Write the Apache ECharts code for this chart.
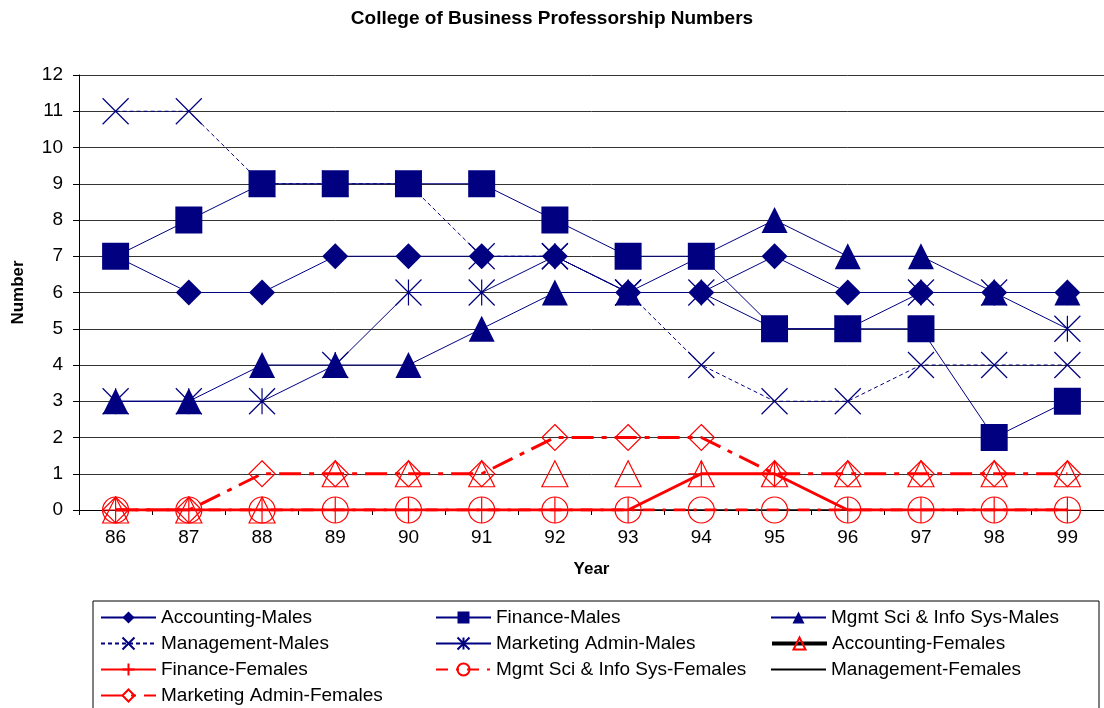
<!DOCTYPE html>
<html>
<head>
<meta charset="utf-8">
<title>College of Business Professorship Numbers</title>
<script src="https://cdn.jsdelivr.net/npm/echarts@6/dist/echarts.min.js"></script>
<style>
  html, body { margin: 0; padding: 0; background: #fff; }
  #chart { width: 1104px; height: 708px; }
</style>
</head>
<body>
<div id="chart"></div>
<script>
// values
var years = ["86", "87", "88", "89", "90", "91", "92", "93", "94", "95", "96", "97", "98", "99"];
var yTicks = [0, 12, 1]; // min, max, step

var accountingMales = [7, 6, 6, 7, 7, 7, 7, 6, 6, 7, 6, 6, 6, 6];
var financeMales = [7, 8, 9, 9, 9, 9, 8, 7, 7, 5, 5, 5, 2, 3];
var mgmtSciMales = [3, 3, 4, 4, 4, 5, 6, 6, 7, 8, 7, 7, 6, 6];
var managementMales = [11, 11, 9, 9, 9, 7, 7, 6, 4, 3, 3, 4, 4, 4];
var marketingMales = [3, 3, 3, 4, 6, 6, 7, 6, 6, 5, 5, 6, 6, 5];

var accountingFemales = [0, 0, 0, 1, 1, 1, 1, 1, 1, 1, 1, 1, 1, 1];
var financeFemales = [0, 0, 0, 0, 0, 0, 0, 0, 1, 1, 0, 0, 0, 0];
var mgmtSciFemales = [0, 0, 0, 0, 0, 0, 0, 0, 0, 0, 0, 0, 0, 0];
var managementFemales = [0, 0, 0, 0, 0, 0, 0, 0, 0, 0, 0, 0, 0, 0];
var marketingFemales = [0, 0, 1, 1, 1, 1, 2, 2, 2, 1, 1, 1, 1, 1];

var NAVY = "#000080";
var RED = "#ff0000";
var FONT = "'Liberation Sans', Arial, sans-serif";
var NONE = "rgba(0,0,0,0)";

var crossPath = "path://M0,0L10,10M10,0L0,10";
var starPath = "path://M0,0L10,10M10,0L0,10M5,0L5,10";
var plusPath = "path://M5,0L5,10M0,5L10,5";

function line(name, data, opts) {
  return {
    name: name,
    type: "line",
    data: data,
    symbol: opts.symbol,
    symbolSize: opts.size || 26,
    showAllSymbol: true,
    z: opts.z || 2,
    itemStyle: {
      color: opts.fill,
      borderColor: opts.stroke,
      borderWidth: opts.fill === NONE ? 1.2 : 0
    },
    lineStyle: {
      color: opts.lineColor,
      width: opts.width,
      type: opts.dash || "solid",
      opacity: opts.lineOpacity === undefined ? 1 : opts.lineOpacity
    },
    emphasis: { disabled: true }
  };
}

var chart = echarts.init(document.getElementById("chart"));
chart.setOption({
  animation: false,
  backgroundColor: "#fff",
  textStyle: { fontFamily: FONT },
  title: {
    text: "College of Business Professorship Numbers",
    left: "center",
    top: 4,
    textStyle: { fontSize: 19, fontWeight: "bold", color: "#000", fontFamily: FONT }
  },
  grid: { left: 79, right: -7, top: 75, bottom: 198 },
  legend: {
    left: 93,
    top: 601,
    width: 1010,
    orient: "horizontal",
    itemWidth: 55,
    itemHeight: 15,
    itemGap: 7,
    itemTextGap: 7,
    padding: [7, 0, 20, 7],
    borderColor: "#000",
    borderWidth: 1,
    textStyle: { fontSize: 19, color: "#000", width: 267, lineHeight: 16, fontFamily: FONT },
    data: [
      "Accounting-Males", "Finance-Males", "Mgmt Sci & Info Sys-Males",
      "Management-Males", "Marketing Admin-Males",
      { name: "Accounting-Females", lineStyle: { color: "#000", width: 4, opacity: 1 } },
      "Finance-Females", "Mgmt Sci & Info Sys-Females",
      { name: "Management-Females", itemStyle: { opacity: 0 } },
      "Marketing Admin-Females"
    ]
  },
  xAxis: {
    type: "category",
    data: years,
    name: "Year",
    nameLocation: "middle",
    nameGap: 51,
    nameTextStyle: { fontSize: 17, fontWeight: "bold", color: "#000" },
    axisLine: { lineStyle: { color: "#000", width: 1 } },
    axisTick: { show: true, length: 5, lineStyle: { color: "#000" } },
    axisLabel: { fontSize: 19, color: "#000", margin: 18 }
  },
  yAxis: {
    type: "value",
    min: yTicks[0],
    max: yTicks[1],
    interval: yTicks[2],
    name: "Number",
    nameLocation: "middle",
    nameGap: 52,
    nameTextStyle: { fontSize: 17, fontWeight: "bold", color: "#000" },
    axisLine: { show: true, lineStyle: { color: "#000", width: 1 } },
    axisTick: { show: true, length: 6, lineStyle: { color: "#000" } },
    axisLabel: { fontSize: 19, color: "#000", margin: 16 },
    splitLine: { lineStyle: { color: "#333", width: 1 } }
  },
  series: [
    line("Accounting-Males", accountingMales, { symbol: "diamond", fill: NAVY, stroke: NAVY, lineColor: NAVY, width: 1 }),
    line("Finance-Males", financeMales, { symbol: "rect", fill: NAVY, stroke: NAVY, lineColor: NAVY, width: 1, size: 27 }),
    line("Mgmt Sci & Info Sys-Males", mgmtSciMales, { symbol: "triangle", fill: NAVY, stroke: NAVY, lineColor: NAVY, width: 1 }),
    line("Management-Males", managementMales, { symbol: crossPath, fill: NONE, stroke: NAVY, lineColor: NAVY, width: 1, dash: [4, 3] }),
    line("Marketing Admin-Males", marketingMales, { symbol: starPath, fill: NONE, stroke: NAVY, lineColor: NAVY, width: 1 }),
    line("Accounting-Females", accountingFemales, { symbol: "triangle", fill: NONE, stroke: RED, lineColor: "#000", width: 4, lineOpacity: 0 }),
    line("Finance-Females", financeFemales, { symbol: plusPath, fill: NONE, stroke: RED, lineColor: RED, width: 3 }),
    line("Mgmt Sci & Info Sys-Females", mgmtSciFemales, { symbol: "circle", fill: NONE, stroke: RED, lineColor: RED, width: 3, dash: [12, 8, 3, 8] }),
    line("Management-Females", managementFemales, { symbol: "none", fill: "#000", stroke: "#000", lineColor: "#000", width: 1.5, z: 1 }),
    line("Marketing Admin-Females", marketingFemales, { symbol: "diamond", fill: NONE, stroke: RED, lineColor: RED, width: 3, dash: [22, 8, 5, 8] })
  ]
});
</script>
</body>
</html>
